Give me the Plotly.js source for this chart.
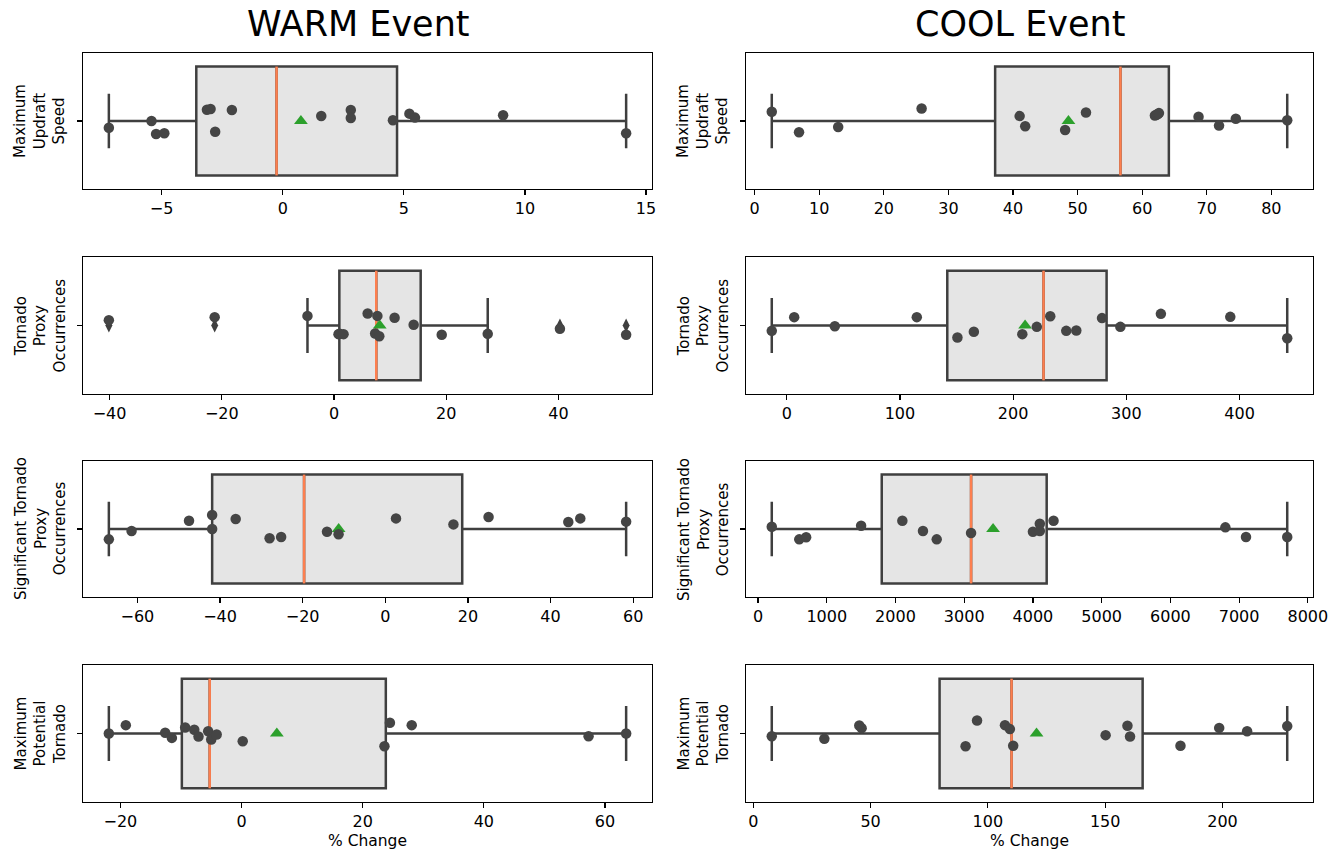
<!DOCTYPE html>
<html>
<head>
<meta charset="utf-8">
<script src="https://cdn.plot.ly/plotly-3.0.1.min.js"></script>
<style>html,body{margin:0;padding:0;background:#fff;}#chart{width:1340px;height:853px;}</style>
</head>
<body>
<div id="chart"></div>
<script>
// ---- Data (percent change values) ----
var columnTitles = ["WARM Event", "COOL Event"];
var rowLabels = [
  "Maximum<br>Updraft<br>Speed",
  "Tornado<br>Proxy<br>Occurrences",
  "Significant Tornado<br>Proxy<br>Occurrences",
  "Maximum<br>Potential<br>Tornado"
];
var xAxisLabel = "% Change";

var warmUpdraft = [-7.18, -5.42, -5.23, -4.89, -3.13, -2.98, -2.10, -2.79, 1.59, 2.81, 2.81, 4.55, 5.23, 5.46, 9.10, 14.18];
var warmUpdraftJitter = [-0.05, 0, -0.096, -0.09, 0.083, 0.088, 0.081, -0.079, 0.037, 0.081, 0.022, 0.005, 0.054, 0.025, 0.042, -0.09];

var coolUpdraft = [2.65, 6.87, 12.93, 25.85, 41.03, 41.89, 48.07, 51.30, 61.97, 62.2, 62.43, 62.6, 68.73, 71.90, 74.50, 82.46];
var coolUpdraftJitter = [0.068, -0.083, -0.044, 0.092, 0.036, -0.039, -0.066, 0.063, 0.041, 0.046, 0.051, 0.058, 0.032, -0.034, 0.017, 0.005];

var warmTornado = [-40.13, -21.27, -4.73, 0.8, 1.0, 1.7, 6.0, 7.33, 7.73, 8.07, 10.8, 14.2, 19.2, 27.4, 40.27, 52.07];
var warmTornadoJitter = [0.039, 0.061, 0.07, -0.063, -0.06, -0.063, 0.087, -0.058, 0.07, -0.078, 0.056, 0.005, -0.068, -0.061, -0.024, -0.068];

var coolTornado = [-13.2, 6.6, 42.5, 114.9, 150.8, 165.3, 208.1, 220.9, 232.8, 246.9, 255.8, 278.5, 294.7, 330.5, 391.8, 442.1];
var coolTornadoJitter = [-0.039, 0.061, -0.005, 0.061, -0.088, -0.046, -0.063, -0.01, 0.068, -0.039, -0.037, 0.054, -0.01, 0.085, 0.063, -0.093];

var warmSigTornado = [-66.9, -61.4, -47.5, -41.9, -41.9, -36.2, -28.0, -25.2, -14.1, -11.3, 2.6, 16.5, 25.0, 44.3, 47.2, 58.3];
var warmSigTornadoJitter = [-0.076, -0.015, 0.061, 0.103, 0, 0.073, -0.068, -0.059, -0.02, -0.039, 0.078, 0.034, 0.088, 0.051, 0.078, 0.054];

var coolSigTornado = [200, 600, 700, 1500, 2100, 2400, 2600, 3100, 4000, 4100, 4100, 4300, 6800, 7100, 7700];
var coolSigTornadoJitter = [0.017, -0.076, -0.061, 0.024, 0.061, -0.015, -0.076, -0.029, -0.02, 0.039, -0.015, 0.061, 0.012, -0.059, -0.059];

var warmMaxPotTornado = [-21.9, -19.1, -12.6, -11.5, -9.3, -7.8, -7.1, -5.5, -5.0, -4.1, 0.2, 23.6, 24.5, 28.1, 57.3, 63.5];
var warmMaxPotTornadoJitter = [0, 0.061, 0.005, -0.032, 0.044, 0.027, -0.022, 0.017, -0.044, -0.007, -0.056, -0.093, 0.078, 0.061, -0.02, 0];

var coolMaxPotTornado = [7.9, 30.3, 45.2, 46.2, 90.5, 95.4, 107.3, 109.4, 110.8, 150.2, 159.5, 160.6, 182.1, 198.6, 210.5, 227.6];
var coolMaxPotTornadoJitter = [-0.02, -0.039, 0.059, 0.039, -0.093, 0.095, 0.061, 0.032, -0.09, -0.012, 0.056, -0.022, -0.09, 0.041, 0.017, 0.054];

var tickSteps = [5, 10, 20, 100, 20, 1000, 20, 50];

// panels in reading order (row-major)
var panels = [
  [warmUpdraft, warmUpdraftJitter], [coolUpdraft, coolUpdraftJitter],
  [warmTornado, warmTornadoJitter], [coolTornado, coolTornadoJitter],
  [warmSigTornado, warmSigTornadoJitter], [coolSigTornado, coolSigTornadoJitter],
  [warmMaxPotTornado, warmMaxPotTornadoJitter], [coolMaxPotTornado, coolMaxPotTornadoJitter]
];

// ---- Styles / layout geometry ----
var W = 1340, H = 853;
var colPx = [[83, 652], [746, 1313]];
var rowPx = [[53, 189], [257, 394], [461, 597], [665, 802]];
var boxEdge = "#3f3f3f", boxFill = "#e5e5e5", dotColor = "#454545";
var medianColor = "#fd7f4f", meanColor = "#2ca02c";
var FONT = "DejaVu Sans, Liberation Sans, sans-serif";

function pct(sorted, p) {
  var pos = p * (sorted.length - 1);
  var lo = Math.floor(pos), frac = pos - lo;
  if (lo + 1 >= sorted.length) return sorted[lo];
  return sorted[lo] + frac * (sorted[lo + 1] - sorted[lo]);
}
function stats(vals) {
  var s = vals.slice().sort(function (a, b) { return a - b; });
  var q1 = pct(s, 0.25), med = pct(s, 0.5), q3 = pct(s, 0.75);
  var iqr = q3 - q1, loLim = q1 - 1.5 * iqr, hiLim = q3 + 1.5 * iqr;
  var inside = s.filter(function (v) { return v >= loLim && v <= hiLim; });
  var fliers = s.filter(function (v) { return v < loLim || v > hiLim; });
  var mean = s.reduce(function (a, b) { return a + b; }, 0) / s.length;
  return { q1: q1, med: med, q3: q3, lo: inside[0], hi: inside[inside.length - 1], fliers: fliers, mean: mean, min: s[0], max: s[s.length - 1] };
}

var data = [];
var layout = {
  width: W, height: H,
  margin: { l: 0, r: 0, t: 0, b: 0 },
  paper_bgcolor: "#ffffff", plot_bgcolor: "#ffffff",
  showlegend: false,
  font: { family: FONT, size: 15, color: "#000000" },
  annotations: []
};

panels.forEach(function (p, i) {
  var vals = p[0], jit = p[1];
  var row = Math.floor(i / 2), col = i % 2;
  var st = stats(vals);
  var sfx = i === 0 ? "" : String(i + 1);
  var xa = "x" + sfx, ya = "y" + sfx;

  data.push({
    type: "box", orientation: "h", xaxis: xa, yaxis: ya,
    y: [0], q1: [st.q1], median: [st.med], q3: [st.q3],
    lowerfence: [st.lo], upperfence: [st.hi],
    boxpoints: false, width: 0.8, whiskerwidth: 0.5,
    fillcolor: boxFill, line: { color: boxEdge, width: 2.5 },
    hoverinfo: "skip"
  });
  data.push({
    type: "scatter", mode: "lines", xaxis: xa, yaxis: ya,
    x: [st.med, st.med], y: [-0.4, 0.4],
    line: { color: medianColor, width: 2.5 }, hoverinfo: "skip"
  });
  data.push({
    type: "scatter", mode: "markers", xaxis: xa, yaxis: ya,
    x: [st.mean], y: [0],
    marker: { symbol: "triangle-up", size: 12, color: meanColor }, hoverinfo: "skip"
  });
  if (st.fliers.length) {
    data.push({
      type: "scatter", mode: "markers", xaxis: xa, yaxis: ya,
      x: st.fliers, y: st.fliers.map(function () { return 0; }),
      marker: { symbol: "diamond-tall", size: 10, color: boxEdge }, hoverinfo: "skip"
    });
  }
  data.push({
    type: "scatter", mode: "markers", xaxis: xa, yaxis: ya,
    x: vals, y: jit,
    marker: { symbol: "circle", size: 10.5, color: dotColor }, hoverinfo: "skip"
  });

  var span = st.max - st.min;
  layout["xaxis" + sfx] = {
    domain: [colPx[col][0] / W, colPx[col][1] / W],
    anchor: ya,
    range: [st.min - 0.05 * span, st.max + 0.05 * span],
    tick0: 0, dtick: tickSteps[i],
    showgrid: false, zeroline: false,
    showline: true, linecolor: "#000000", linewidth: 1.2, mirror: true,
    ticks: "outside", ticklen: 5, tickwidth: 1.2, tickcolor: "#000000",
    tickfont: { family: FONT, size: 16, color: "#000000" },
    fixedrange: true
  };
  layout["yaxis" + sfx] = {
    domain: [1 - rowPx[row][1] / H, 1 - rowPx[row][0] / H],
    anchor: xa,
    range: [-0.5, 0.5],
    tickvals: [0], showticklabels: false,
    showgrid: false, zeroline: false,
    showline: true, linecolor: "#000000", linewidth: 1.2, mirror: true,
    ticks: "outside", ticklen: 5, tickwidth: 1.2, tickcolor: "#000000",
    fixedrange: true
  };

  layout.annotations.push({
    xref: "paper", yref: "paper",
    x: (colPx[col][0] - 43) / W,
    y: 1 - (rowPx[row][0] + rowPx[row][1]) / 2 / H,
    text: rowLabels[row], textangle: -90, showarrow: false,
    xanchor: "center", yanchor: "middle",
    font: { family: FONT, size: 15, color: "#000000" }
  });
  if (row === 3) {
    layout.annotations.push({
      xref: "paper", yref: "paper",
      x: (colPx[col][0] + colPx[col][1]) / 2 / W, y: 1 - 841 / H,
      text: xAxisLabel, showarrow: false, xanchor: "center", yanchor: "middle",
      font: { family: FONT, size: 15.5, color: "#000000" }
    });
  }
});

var titleCenters = [358, 1020];
columnTitles.forEach(function (t, c) {
  layout.annotations.push({
    xref: "paper", yref: "paper",
    x: titleCenters[c] / W, y: 1 - 24 / H,
    text: t, showarrow: false, xanchor: "center", yanchor: "middle",
    font: { family: FONT, size: 35, color: "#000000" }
  });
});

Plotly.newPlot("chart", data, layout, { displayModeBar: false, staticPlot: true });
</script>
</body>
</html>
